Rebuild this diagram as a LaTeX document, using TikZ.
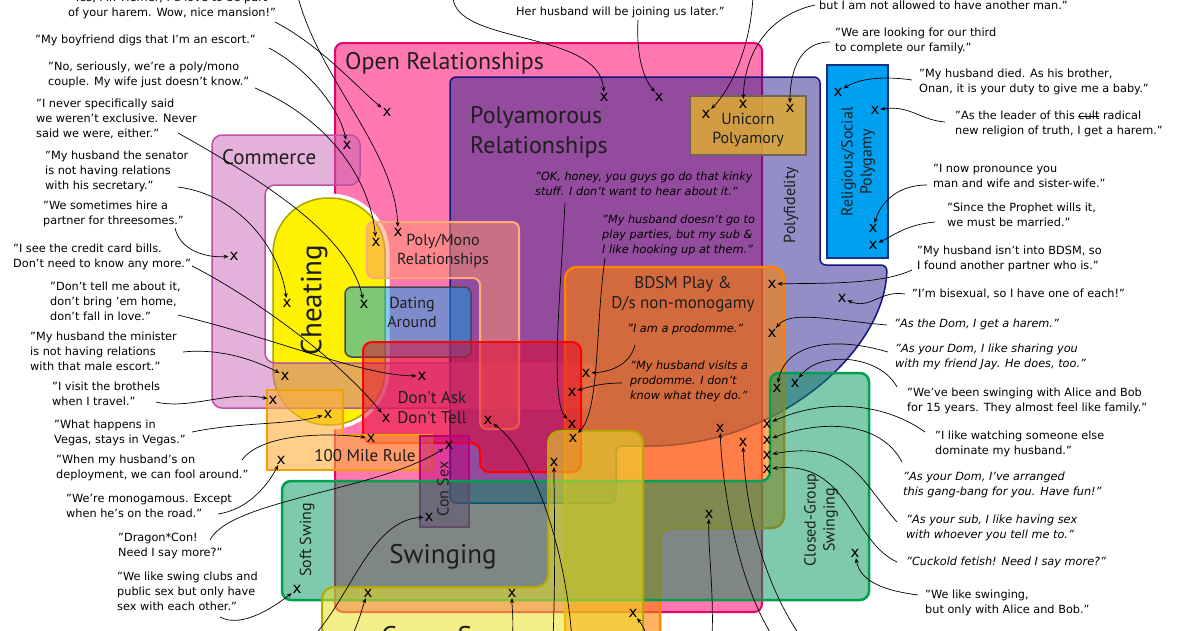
\documentclass[tikz,border=0pt]{standalone}
\usepackage{fontspec}
\setmainfont{DejaVu Sans}
\newfontfamily\lblfont{PT Sans}
\usetikzlibrary{arrows.meta,calc}
\newcommand\strikeword[1]{\setbox0\hbox{#1}\rlap{\rule[0.3em]{\wd0}{0.07em}}\box0\relax}
\definecolor{orPink}{RGB}{255,121,176}
\definecolor{orLine}{RGB}{232,0,110}
\definecolor{paFill}{RGB}{40,30,140}
\definecolor{paLine}{RGB}{20,20,130}
\definecolor{rsFill}{RGB}{0,160,240}
\definecolor{rsLine}{RGB}{20,50,130}
\definecolor{chFill}{RGB}{255,242,0}
\definecolor{chLine}{RGB}{170,165,0}
\definecolor{coFill}{RGB}{200,100,180}
\definecolor{coLine}{RGB}{190,80,165}
\definecolor{pmFill}{RGB}{255,150,110}
\definecolor{pmLine}{RGB}{255,170,120}
\definecolor{daFill}{RGB}{0,160,230}
\definecolor{daLine}{RGB}{70,70,80}
\definecolor{upFill}{RGB}{220,170,50}
\definecolor{upLine}{RGB}{110,100,90}
\definecolor{bdFill}{RGB}{255,128,0}
\definecolor{bdLine}{RGB}{255,130,0}
\definecolor{dtFill}{RGB}{230,0,40}
\definecolor{dtLine}{RGB}{255,0,0}
\definecolor{hmFill}{RGB}{255,175,60}
\definecolor{hmLine}{RGB}{240,160,0}
\definecolor{csFill}{RGB}{190,0,130}
\definecolor{csLine}{RGB}{190,0,120}
\definecolor{swFill}{RGB}{0,150,90}
\definecolor{swLine}{RGB}{0,160,80}
\definecolor{gxFill}{RGB}{235,225,40}
\definecolor{gxLine}{RGB}{180,170,0}
\definecolor{lblText}{RGB}{30,30,30}
\tikzset{
  quote/.style={font=\fontsize{11.3}{15}\selectfont, align=left, inner sep=0pt, anchor=north west, yshift=-3pt},
  bquote/.style={quote, font=\fontsize{11.3}{15}\selectfont\itshape},
  lbl/.style={font=\lblfont\fontsize{16}{19}\selectfont, align=center, inner sep=0pt, text=lblText},
  biglbl/.style={font=\lblfont\fontsize{24}{30}\selectfont, align=left, inner sep=0pt, text=lblText},
  xm/.style={font=\fontsize{15}{15}\selectfont, inner sep=0.8pt},
  arr/.style={-{Stealth[length=5pt,width=4pt]}, line width=0.7pt, black},
  region/.style={line width=2pt},
}
\begin{document}
\begin{tikzpicture}[x=1pt,y=-1pt]
\useasboundingbox (0,0) rectangle (1200,630);
\clip (0,0) rectangle (1200,630);
\fill[white] (0,0) rectangle (1200,630);

% Open Relationships
\filldraw[region, fill=orPink, draw=orLine, rounded corners=8pt] (335,612) -- (335,43) -- (762,43) -- (762,612) -- cycle;
% Polyamorous
\filldraw[line width=1.5pt, fill=paFill, fill opacity=0.5, draw=paLine, rounded corners=6pt]
  (450,503) -- (450,77) -- (820,77) -- (820,265) -- (887,265) .. controls (885,350) and (780,446) .. (643,446) -- (616,446) -- (616,503) -- cycle;
% Religious
\filldraw[line width=1.5pt, fill=rsFill, draw=rsLine] (827,65) rectangle (888,258);
% Cheating
\draw[white, line width=9pt, rounded corners=55pt] (273,198) rectangle (385,425);
\filldraw[line width=1.5pt, fill=chFill, draw=chLine, rounded corners=55pt] (273,198) rectangle (385,425);
% Commerce
\filldraw[line width=1.5pt, fill=coFill, fill opacity=0.5, draw=coLine, rounded corners=10pt]
  (212,135) -- (360,135) -- (360,185) -- (265,185) -- (265,363) -- (595,363) -- (595,408) -- (212,408) -- cycle;
% Poly/Mono
\filldraw[region, fill=pmFill, fill opacity=0.5, draw=pmLine, rounded corners=7pt]
  (367,222) -- (519,222) -- (519,429) -- (480,429) -- (480,278) -- (367,278) -- cycle;
% Dating Around
\filldraw[line width=1.5pt, fill=daFill, fill opacity=0.5, draw=daLine, rounded corners=7pt] (345,287) rectangle (471,357);
% Unicorn
\filldraw[line width=1.5pt, fill=upFill, fill opacity=0.85, draw=upLine] (690,96) rectangle (806,155);
% BDSM
\filldraw[line width=2.5pt, fill=bdFill, fill opacity=0.6, draw=bdLine, rounded corners=12pt]
  (565,650) -- (565,267) -- (784,267) -- (784,528) -- (660,528) -- (660,650);
% Don't Ask Don't Tell
\filldraw[region, fill=dtFill, fill opacity=0.5, draw=dtLine, rounded corners=9pt]
  (363,342) -- (581,342) -- (581,472) -- (480,472) -- (480,443) -- (363,443) -- cycle;
% 100 Mile Rule
\filldraw[region, fill=hmFill, fill opacity=0.6, draw=hmLine]
  (267,390) -- (343,390) -- (343,435) -- (432,435) -- (432,470) -- (267,470) -- cycle;
% Con Sex
\filldraw[region, fill=csFill, fill opacity=0.5, draw=csLine] (420,436) rectangle (469,527);
% Swinging (green)
\filldraw[line width=2.5pt, fill=swFill, fill opacity=0.5, draw=swLine, rounded corners=9pt]
  (282,481) -- (770,481) -- (770,373) -- (869,373) -- (869,600) -- (282,600) -- cycle;
% Group sex (yellow)
\filldraw[region, fill=gxFill, fill opacity=0.55, draw=gxLine, rounded corners=12pt]
  (322,700) -- (322,587) -- (548,587) -- (548,431) -- (643,431) -- (643,700);

% labels
\node[biglbl, anchor=west] (lOR) at (345,63) {Open Relationships};
\node[biglbl, anchor=north west] (lPA) at (470,106) {Polyamorous\\Relationships};
\node[lbl] (lUP) at (748,130) {Unicorn\\Polyamory};
\node[lbl, rotate=90] (lPF) at (791,205) {Polyfidelity};
\node[lbl, rotate=90] (lRS) at (858,162) {Religious/Social\\Polygamy};
\node[lbl, font=\lblfont\fontsize{21}{24}\selectfont, anchor=west] (lCO) at (222,157) {Commerce};
\node[lbl, font=\lblfont\fontsize{29}{30}\selectfont, rotate=90] (lCH) at (314,300) {Cheating};
\node[lbl] (lPM) at (443,251) {Poly/Mono\\Relationships};
\node[lbl] (lDA) at (412,312) {Dating\\Around};
\node[lbl, font=\lblfont\fontsize{17}{20}\selectfont] (lBD) at (683,294) {BDSM Play \&\\D/s non-monogamy};
\node[lbl, font=\lblfont\fontsize{17}{20}\selectfont] (lDT) at (432,408) {Don't Ask\\Don't Tell};
\node[lbl, font=\lblfont\fontsize{17}{20}\selectfont] (lHM) at (365,456) {100 Mile Rule};
\node[lbl, rotate=90] (lCS) at (443,489) {Con Sex};
\node[lbl, font=\lblfont\fontsize{27}{30}\selectfont] (lSW) at (443,557) {Swinging};
\node[lbl, rotate=90] (lSS) at (307,540) {Soft Swing};
\node[lbl, rotate=90] (lCG) at (821,520) {Closed-Group\\Swinging};
\node[lbl, font=\lblfont\fontsize{27}{30}\selectfont, anchor=base] (lGX) at (440,645) {Group Sex};

% x marks
\foreach \n/\p in {x1/{(387,112)}, x2/{(347,145)}, x3/{(604,97)}, x4/{(659,97)}, x5/{(706,114)},
  x6/{(743,104)}, x7/{(790,108)}, x8/{(838,92)}, x9/{(875,110)}, x10/{(873,228)}, x11/{(873,245)},
  x12/{(772,284)}, x13/{(842,298)}, x14/{(772,333)}, x15/{(777,388)}, x16/{(795,383)},
  x17a/{(767,424)}, x17b/{(767,440)}, x17c/{(767,455)}, x17d/{(767,469)}, x18/{(720,428)},
  x19/{(743,442)}, x20/{(709,514)}, x21/{(855,553)}, x22/{(287,303)}, x23/{(234,256)},
  x24/{(376,242)}, x25/{(398,232)}, x26/{(364,304)}, x27/{(422,376)}, x28/{(285,376)},
  x29/{(273,400)}, x30/{(328,414)}, x31/{(386,418)}, x32/{(371,438)}, x33/{(281,460)},
  x34/{(449,445)}, x35/{(429,517)}, x36/{(488,420)}, x37a/{(586,373)}, x37b/{(572,392)},
  x37c/{(572,424)}, x37d/{(573,438)}, x37e/{(554,462)}, x38s/{(297,589)}, x38a/{(368,593)},
  x38b/{(512,593)}, x39/{(633,613)}}
  \node[xm] (\n) at \p {x};

% quotes
\node[quote] (qL1) at (68,-10) {"Yes, Mr. Hefner, I'd love to be part\\of your harem. Wow, nice mansion!"};
\node[quote] (qL2) at (35,32) {"My boyfriend digs that I'm an escort."};
\node[quote] (qL3) at (48,59) {"No, seriously, we're a poly/mono\\couple. My wife just doesn't know."};
\node[quote] (qL4) at (36,96) {"I never specifically said\\we weren't exclusive. Never\\said we were, either."};
\node[quote] (qL5) at (45,148) {"My husband the senator\\is not having relations\\with his secretary."};
\node[quote] (qL6) at (43,198) {"We sometimes hire a\\partner for threesomes."};
\node[quote] (qL7) at (13,241) {"I see the credit card bills.\\Don't need to know any more."};
\node[quote] (qL8) at (50,279) {"Don't tell me about it,\\don't bring 'em home,\\don't fall in love."};
\node[quote] (qL9) at (30,329) {"My husband the minister\\is not having relations\\with that male escort."};
\node[quote] (qL10) at (52,379) {"I visit the brothels\\when I travel."};
\node[quote] (qL11) at (54,417) {"What happens in\\Vegas, stays in Vegas."};
\node[quote] (qL12) at (56,452) {"When my husband's on\\deployment, we can fool around."};
\node[quote] (qL13) at (66,491) {"We're monogamous. Except\\when he's on the road."};
\node[quote] (qL14) at (118,530) {"Dragon*Con!\\Need I say more?"};
\node[quote] (qL15) at (117,569) {"We like swing clubs and\\public sex but only have\\sex with each other."};
\node[quote] (qT1) at (516,4) {Her husband will be joining us later."};
\node[quote] (qR0) at (819,-2) {but I am not allowed to have another man."};
\node[quote] (qR1) at (835,25) {"We are looking for our third\\to complete our family."};
\node[quote] (qR2) at (919,66) {"My husband died. As his brother,\\Onan, it is your duty to give me a baby."};
\node[quote] (qR3) at (955,108) {"As the leader of this \strikeword{cult} radical\\new religion of truth, I get a harem."};
\node[quote] (qR4) at (933,161) {"I now pronounce you\\man and wife and sister-wife."};
\node[quote] (qR5) at (947,200) {"Since the Prophet wills it,\\we must be married."};
\node[quote] (qR6) at (917,243) {"My husband isn't into BDSM, so\\I found another partner who is."};
\node[quote] (qR7) at (912,286) {"I'm bisexual, so I have one of each!"};
\node[bquote] (qR8) at (894,316) {"As the Dom, I get a harem."};
\node[bquote] (qR9) at (895,341) {"As your Dom, I like sharing you\\with my friend Jay. He does, too."};
\node[quote] (qR10) at (907,385) {"We've been swinging with Alice and Bob\\for 15 years. They almost feel like family."};
\node[quote] (qR11) at (935,428) {"I like watching someone else\\dominate my husband."};
\node[bquote] (qR12) at (903,469) {"As your Dom, I've arranged\\this gang-bang for you. Have fun!"};
\node[bquote] (qR13) at (906,512) {"As your sub, I like having sex\\with whoever you tell me to."};
\node[bquote] (qR14) at (906,554) {"Cuckold fetish! Need I say more?"};
\node[quote] (qR15) at (925,587) {"We like swinging,\\but only with Alice and Bob."};
\node[bquote] (qI1) at (535,169) {"OK, honey, you guys go do that kinky\\stuff. I don't want to hear about it."};
\node[bquote] (qI2) at (602,212) {"My husband doesn't go to\\play parties, but my sub \&\\I like hooking up at them."};
\node[bquote] (qI3) at (627,321) {"I am a prodomme."};
\node[bquote] (qI4) at (630,358) {"My husband visits a\\prodomme. I don't\\know what they do."};

% free ends
\coordinate (t1) at (298,-3);
\coordinate (t2) at (453,-3);
\coordinate (t3) at (753,-3);
\coordinate (b1) at (310,640);
\coordinate (b2) at (350,640);
\coordinate (b3) at (512,640);
\coordinate (b4) at (553,640);
\coordinate (b5) at (572,640);
\coordinate (b6) at (775,640);
\coordinate (b7) at (803,640);
\coordinate (b8) at (712,640);
\coordinate (b9) at (648,640);

% arrows left
\draw[arr] ($(qL1.north west)+(207,29)$) .. controls (320,45) and (360,90) .. (x1);
\draw[arr] ($(qL2.north west)+(234,13)$) .. controls (310,70) and (340,110) .. (x2);
\draw[arr] ($(qL3.north west)+(207,26)$) .. controls (330,120) and (370,180) .. (x24);
\draw[arr] (t1) .. controls (320,80) and (395,150) .. (x25);
\draw[arr] ($(qL4.north west)+(142,34)$) .. controls (280,190) and (350,240) .. (x26);
\draw[arr] ($(qL5.north west)+(133,36)$) .. controls (240,195) and (280,250) .. (x22);
\draw[arr] ($(qL6.north west)+(132,27)$) .. controls (180,250) and (205,258) .. (x23);
\draw[arr] ($(qL7.north west)+(179,22)$) .. controls (240,290) and (330,350) .. (x31);
\draw[arr] ($(qL8.north west)+(128,33)$) .. controls (280,340) and (360,375) .. (x27);
\draw[arr] ($(qL9.north west)+(153,20)$) .. controls (220,348) and (255,360) .. (x28);
\draw[arr] ($(qL10.north west)+(104,20)$) .. controls (190,410) and (230,390) .. (x29);
\draw[arr] ($(qL11.north west)+(138,12)$) .. controls (240,422) and (290,425) .. (x30);
\draw[arr] ($(qL12.north west)+(186,5)$) .. controls (260,435) and (320,432) .. (x32);
\draw[arr] ($(qL13.north west)+(152,20)$) .. controls (245,510) and (265,490) .. (x33);
\draw[arr] ($(qL14.north west)+(92,7)$) .. controls (230,500) and (380,490) .. (x34);
\draw[arr] ($(qL15.north west)+(103,45)$) .. controls (240,628) and (270,610) .. (x38s);
% arrows bottom
\draw[arr] (b1) .. controls (350,600) and (370,520) .. (x35);
\draw[arr] (b2) .. controls (360,620) and (362,608) .. (x38a);
\draw[arr] (b3) .. controls (514,620) and (512,610) .. (x38b);
\draw[arr] (b4) .. controls (556,560) and (554,500) .. (x37e);
\draw[arr] (b5) .. controls (565,540) and (530,450) .. (x36);
\draw[arr] (b6) .. controls (735,580) and (722,480) .. (x18);
\draw[arr] (b7) .. controls (760,580) and (745,500) .. (x19);
\draw[arr] (b8) .. controls (714,590) and (708,550) .. (x20);
\draw[arr] (b9) .. controls (646,630) and (640,622) .. (x39);
% arrows top
\draw[arr] ($(qT1.north west)+(122,13)$) .. controls (636,60) and (645,80) .. (x4);
\draw[arr] (t2) .. controls (455,45) and (600,30) .. (x3);
\draw[arr] (t3) .. controls (750,50) and (730,90) .. (x5);
\draw[arr] ($(qR0.north west)+(-4,4)$) .. controls (770,15) and (745,50) .. (x6);
% arrows right
\draw[arr] ($(qR1.north west)+(-5,14)$) .. controls (795,42) and (790,80) .. (x7);
\draw[arr] ($(qR2.north west)+(-7,11)$) .. controls (885,76) and (860,78) .. (x8);
\draw[arr] ($(qR3.north west)+(-10,11)$) .. controls (920,120) and (910,105) .. (x9);
\draw[arr] ($(qR4.north west)+(-6,21)$) .. controls (895,185) and (880,205) .. (x10);
\draw[arr] ($(qR5.north west)+(-12,19)$) .. controls (905,225) and (895,235) .. (x11);
\draw[arr] ($(qR6.north west)+(-5,24)$) .. controls (880,285) and (820,283) .. (x12);
\draw[arr] ($(qR7.north west)+(-7,5)$) .. controls (880,290) and (870,310) .. (x13);
\draw[arr] ($(qR8.north west)+(-7,6)$) .. controls (830,320) and (790,310) .. (x14);
\draw[arr] ($(qR9.north west)+(-7,8)$) .. controls (830,335) and (785,345) .. (x15);
\draw[arr] ($(qR10.north west)+(-10,-1)$) .. controls (880,355) and (820,350) .. (x16);
\draw[arr] ($(qR11.north west)+(-10,1)$) .. controls (880,400) and (820,400) .. (x17a);
\draw[arr] ($(qR12.north west)+(-1,-10)$) .. controls (880,420) and (820,420) .. (x17b);
\draw[arr] ($(qR13.north west)+(-9,7)$) .. controls (860,480) and (850,440) .. (x17c);
\draw[arr] ($(qR14.north west)+(-9,5)$) .. controls (850,540) and (850,460) .. (x17d);
\draw[arr] ($(qR15.north west)+(-7,5)$) .. controls (880,590) and (860,580) .. (x21);
% arrows inner
\draw[arr] ($(qI1.north west)+(30,31)$) .. controls (560,300) and (550,400) .. (x37c);
\draw[arr] ($(qI2.north west)+(3,43)$) .. controls (595,330) and (600,410) .. (x37d);
\draw[arr] ($(qI3.north west)+(8,21)$) .. controls (630,365) and (610,372) .. (x37a);
\draw[arr] ($(qI4.north west)+(-8,22)$) .. controls (605,383) and (595,385) .. (x37b);
\end{tikzpicture}
\end{document}
